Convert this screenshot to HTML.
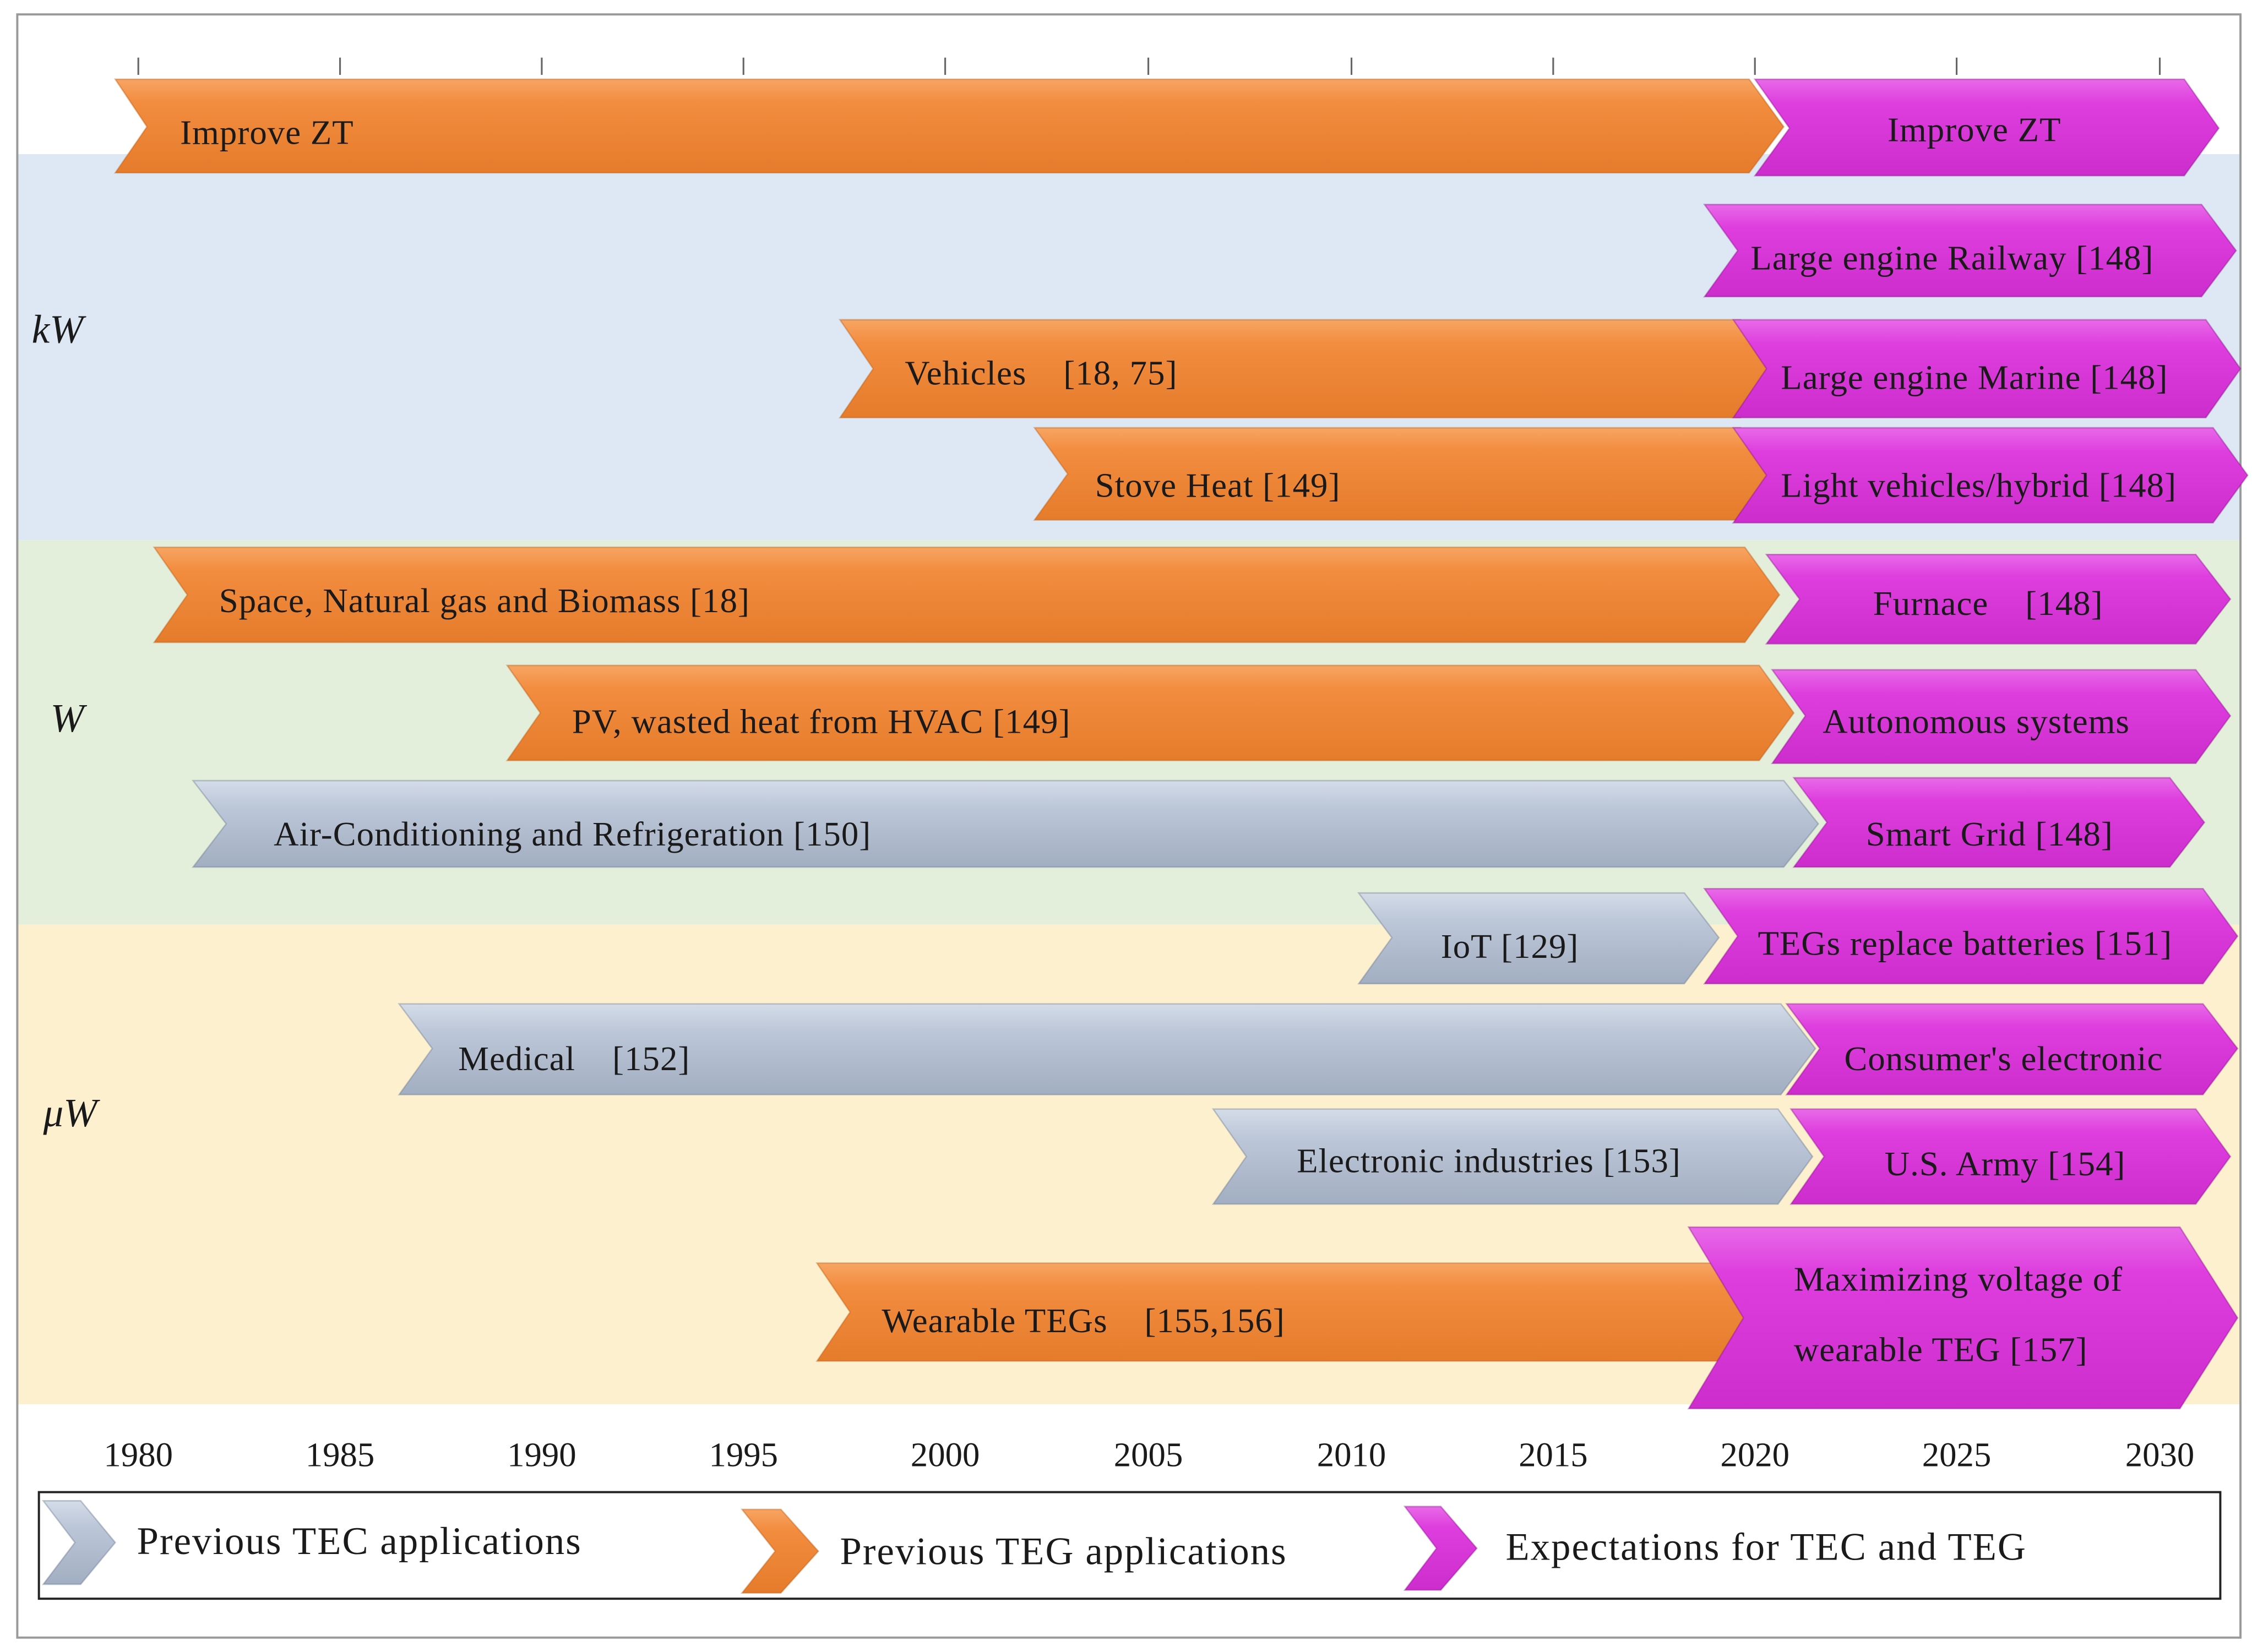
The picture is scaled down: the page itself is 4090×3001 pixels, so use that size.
<!DOCTYPE html>
<html><head><meta charset="utf-8"><style>
html,body{margin:0;padding:0;background:#fff;}
svg{display:block;}
text{font-family:"Liberation Serif",serif;fill:#1a1a1a;}
</style></head><body>
<svg width="4090" height="3001" viewBox="0 0 1563 1147" preserveAspectRatio="none" xmlns="http://www.w3.org/2000/svg">
<defs>
<linearGradient id="go" x1="0" y1="0" x2="0" y2="1"><stop offset="0" stop-color="#f7a564"/><stop offset="0.25" stop-color="#f28c3e"/><stop offset="1" stop-color="#e57c2c"/></linearGradient>
<linearGradient id="gm" x1="0" y1="0" x2="0" y2="1"><stop offset="0" stop-color="#e86ae8"/><stop offset="0.25" stop-color="#de3ede"/><stop offset="1" stop-color="#cc2dcc"/></linearGradient>
<linearGradient id="gg" x1="0" y1="0" x2="0" y2="1"><stop offset="0" stop-color="#d4dce8"/><stop offset="0.3" stop-color="#bcc7d8"/><stop offset="1" stop-color="#a2aec1"/></linearGradient>
</defs>
<rect x="0" y="0" width="1563" height="1147" fill="#fff"/>
<rect x="12" y="107" width="1543" height="268" fill="#dde8f4"/>
<rect x="12" y="375" width="1543" height="267" fill="#e3eedb"/>
<rect x="12" y="642" width="1543" height="333" fill="#fdf0cf"/>
<rect x="12" y="10" width="1543" height="1127" fill="none" stroke="#9a9a9a" stroke-width="1.5"/>
<g stroke="#666" stroke-width="1.2">
<line x1="96" y1="40" x2="96" y2="52"/><line x1="236" y1="40" x2="236" y2="52"/><line x1="376" y1="40" x2="376" y2="52"/><line x1="516" y1="40" x2="516" y2="52"/><line x1="656" y1="40" x2="656" y2="52"/><line x1="797" y1="40" x2="797" y2="52"/><line x1="938" y1="40" x2="938" y2="52"/><line x1="1078" y1="40" x2="1078" y2="52"/><line x1="1218" y1="40" x2="1218" y2="52"/><line x1="1358" y1="40" x2="1358" y2="52"/><line x1="1499" y1="40" x2="1499" y2="52"/>
</g>
<g font-size="24" text-anchor="middle">
<text x="96" y="1018">1980</text><text x="236" y="1018">1985</text><text x="376" y="1018">1990</text><text x="516" y="1018">1995</text><text x="656" y="1018">2000</text><text x="797" y="1018">2005</text><text x="938" y="1018">2010</text><text x="1078" y="1018">2015</text><text x="1218" y="1018">2020</text><text x="1358" y="1018">2025</text><text x="1499" y="1018">2030</text>
</g>
<g font-size="28" font-style="italic">
<text x="22" y="238">kW</text><text x="35" y="508">W</text><text x="30" y="782">μW</text>
</g>
<g stroke-width="1" stroke-opacity="0.4">
<polygon fill="url(#go)" stroke="#b85a10" points="80,55 1214,55 1238,88 1214,120 80,120 102,88"/>
<polygon fill="url(#gm)" stroke="#8a108a" points="1218,55 1516,55 1540,89 1516,122 1218,122 1242,89"/>
<polygon fill="url(#gm)" stroke="#8a108a" points="1183,142 1528,142 1552,174 1528,206 1183,206 1206,174"/>
<polygon fill="url(#go)" stroke="#b85a10" points="583,222 1208,222 1232,256 1208,290 583,290 606,256"/>
<polygon fill="url(#gm)" stroke="#8a108a" points="1203,222 1531,222 1555,256 1531,290 1203,290 1226,256"/>
<polygon fill="url(#go)" stroke="#b85a10" points="718,297 1208,297 1232,329 1208,361 718,361 741,329"/>
<polygon fill="url(#gm)" stroke="#8a108a" points="1203,297 1536,297 1560,330 1536,363 1203,363 1226,330"/>
<polygon fill="url(#go)" stroke="#b85a10" points="107,380 1211,380 1235,413 1211,446 107,446 130,413"/>
<polygon fill="url(#gm)" stroke="#8a108a" points="1226,385 1524,385 1548,416 1524,447 1226,447 1249,416"/>
<polygon fill="url(#go)" stroke="#b85a10" points="352,462 1221,462 1245,495 1221,528 352,528 375,495"/>
<polygon fill="url(#gm)" stroke="#8a108a" points="1230,465 1524,465 1548,497 1524,530 1230,530 1253,497"/>
<polygon fill="url(#gg)" stroke="#6a7890" points="134,542 1238,542 1262,572 1238,602 134,602 157,572"/>
<polygon fill="url(#gm)" stroke="#8a108a" points="1245,540 1506,540 1530,571 1506,602 1245,602 1268,571"/>
<polygon fill="url(#gg)" stroke="#6a7890" points="943,620 1169,620 1193,651 1169,683 943,683 966,651"/>
<polygon fill="url(#gm)" stroke="#8a108a" points="1183,617 1529,617 1553,650 1529,683 1183,683 1206,650"/>
<polygon fill="url(#gg)" stroke="#6a7890" points="277,697 1236,697 1260,728 1236,760 277,760 300,728"/>
<polygon fill="url(#gm)" stroke="#8a108a" points="1240,697 1529,697 1553,728 1529,760 1240,760 1263,728"/>
<polygon fill="url(#gg)" stroke="#6a7890" points="842,770 1234,770 1258,803 1234,836 842,836 865,803"/>
<polygon fill="url(#gm)" stroke="#8a108a" points="1243,770 1524,770 1548,803 1524,836 1243,836 1266,803"/>
<polygon fill="url(#go)" stroke="#b85a10" points="567,877 1198,877 1222,911 1198,945 567,945 590,911"/>
<polygon fill="url(#gm)" stroke="#8a108a" points="1172,852 1513,852 1553,915 1513,978 1172,978 1210,915"/>
</g>
<g font-size="24" letter-spacing="0.4">
<text x="125" y="100">Improve ZT</text>
<text x="1310" y="98">Improve ZT</text>
<text x="1215" y="187">Large engine Railway [148]</text>
<text x="628" y="267">Vehicles&#160;&#160;&#160;&#160;[18, 75]</text>
<text x="1236" y="270">Large engine Marine [148]</text>
<text x="760" y="345">Stove Heat [149]</text>
<text x="1236" y="345">Light vehicles/hybrid [148]</text>
<text x="152" y="425">Space, Natural gas and Biomass [18]</text>
<text x="1300" y="427">Furnace&#160;&#160;&#160;&#160;[148]</text>
<text x="397" y="509">PV, wasted heat from HVAC [149]</text>
<text x="1265" y="509">Autonomous systems</text>
<text x="190" y="587">Air-Conditioning and Refrigeration [150]</text>
<text x="1295" y="587">Smart Grid [148]</text>
<text x="1000" y="665">IoT [129]</text>
<text x="1220" y="663">TEGs replace batteries [151]</text>
<text x="318" y="743">Medical&#160;&#160;&#160;&#160;[152]</text>
<text x="1280" y="743">Consumer's electronic</text>
<text x="900" y="814">Electronic industries [153]</text>
<text x="1308" y="816">U.S. Army [154]</text>
<text x="612" y="925">Wearable TEGs&#160;&#160;&#160;&#160;[155,156]</text>
<text x="1245" y="896">Maximizing voltage of</text>
<text x="1245" y="945">wearable TEG [157]</text>
</g>
<rect x="27" y="1036" width="1514" height="74" fill="#fff" stroke="#222" stroke-width="1.5"/>
<g stroke-width="1" stroke-opacity="0.4">
<polygon fill="url(#gg)" stroke="#6a7890" points="30,1042 56,1042 80,1071 56,1100 30,1100 52,1071"/>
<polygon fill="url(#go)" stroke="#b85a10" points="515,1048 542,1048 568,1077 542,1106 515,1106 538,1077"/>
<polygon fill="url(#gm)" stroke="#8a108a" points="975,1046 1000,1046 1025,1075 1000,1104 975,1104 997,1075"/>
</g>
<g font-size="27" letter-spacing="0.8">
<text x="95" y="1079">Previous TEC applications</text>
<text x="583" y="1086">Previous TEG applications</text>
<text x="1045" y="1083">Expectations for TEC and TEG</text>
</g>
</svg>
</body></html>
